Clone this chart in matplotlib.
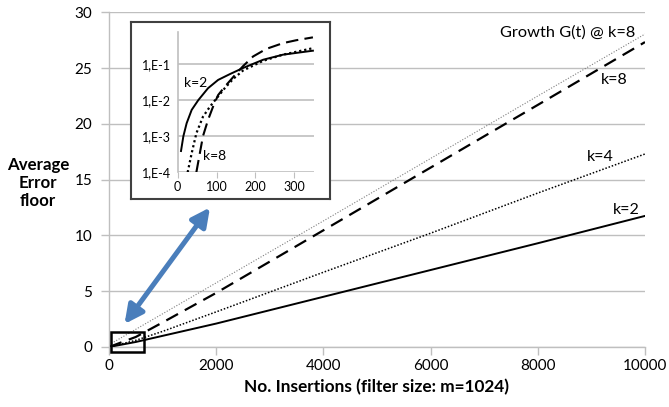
import numpy as np
import matplotlib
matplotlib.use("Agg")
import matplotlib.pyplot as plt
from matplotlib.patches import Rectangle, FancyArrowPatch

plt.rcParams['font.family'] = ['Lato', 'DejaVu Sans']

# main chart data
n_main = [0, 500, 1000, 2000, 4000, 6000, 8000, 10000]
err_k2 = [0, 0.45, 1.0, 2.1, 4.5, 6.9, 9.3, 11.75]
err_k4 = [0, 0.6, 1.4, 3.15, 6.7, 10.2, 13.8, 17.3]
err_k8 = [0, 0.9, 2.2, 4.85, 10.46, 16.08, 21.7, 27.33]
n_growth = [0, 2000, 4000, 6000, 8000, 10000]
growth_k8 = [0.2, 5.75, 11.3, 16.9, 22.5, 28.05]

# zoomed inset data, log10 of error floor
n_in_k2 = [8.5, 14.6, 23, 36, 53, 78, 104, 134, 168, 220, 271, 348]
log_k2 = [-3.41, -3.0, -2.64, -2.27, -2.0, -1.67, -1.44, -1.28, -1.11, -0.88, -0.74, -0.63]
n_in_k4 = [25.6, 36, 48, 65, 83, 100, 121, 143, 168, 220, 271, 348]
log_k4 = [-4.0, -3.47, -2.92, -2.46, -2.18, -1.95, -1.67, -1.41, -1.18, -0.91, -0.74, -0.56]
n_in_k8 = [48, 57, 65, 78, 91, 104, 121, 134, 151, 168, 194, 228, 271, 305, 348]
log_k8 = [-4.0, -3.47, -3.0, -2.55, -2.18, -1.86, -1.63, -1.47, -1.26, -1.06, -0.79,
          -0.58, -0.42, -0.34, -0.26]

x_ticks = [0, 2000, 4000, 6000, 8000, 10000]
y_ticks = [0, 5, 10, 15, 20, 25, 30]
in_y_ticks = [-4, -3, -2, -1]
in_y_labels = ['1,E-4', '1,E-3', '1,E-2', '1,E-1']
in_x_ticks = [0, 100, 200, 300]

W, H = 669, 407
grid_c = '#bfbfbf'

fig = plt.figure(figsize=(W / 100, H / 100), dpi=100)
ax = fig.add_axes([109 / W, 1 - 347 / H, 536 / W, 334.7 / H])

ax.plot(n_growth, growth_k8, color='#7f7f7f', lw=0.8, ls=(0, (1, 1.5)))
ax.plot(n_main, err_k8, color='black', lw=1.6, ls=(0, (6, 3.5)))
ax.plot(n_main, err_k4, color='black', lw=1.1, ls=(0, (1, 1.2)))
ax.plot(n_main, err_k2, color='black', lw=1.4)

ax.set_xlim(0, 10000)
ax.set_ylim(0, 30)
ax.set_xticks(x_ticks)
ax.set_yticks(y_ticks)
ax.yaxis.grid(True, color=grid_c, lw=1)
ax.set_axisbelow(True)
for s in ['top', 'right']:
    ax.spines[s].set_visible(False)
for s in ['left', 'bottom']:
    ax.spines[s].set_color(grid_c)
    ax.spines[s].set_linewidth(1)
ax.spines['bottom'].set_zorder(0.5)
ax.tick_params(colors=grid_c, length=6, width=1, labelcolor='black', labelsize=11, pad=3)
ax.tick_params(axis='y', pad=6)

ax.text(9820, 28.2, 'Growth G(t) @ k=8', ha='right', va='center', fontsize=11.8)
ax.text(9430, 23.9, 'k=8', ha='center', va='center', fontsize=11.5)
ax.text(9160, 17.05, 'k=4', ha='center', va='center', fontsize=11.5)
ax.text(9655, 12.3, 'k=2', ha='center', va='center', fontsize=11.5)

ax.add_patch(Rectangle((30, -0.45), 620, 1.8, fill=False, ec='black', lw=1.8,
                       clip_on=False, zorder=5))

ax.set_xlabel('No. Insertions (filter size: m=1024)', fontsize=12.4, fontweight='bold', labelpad=4)
fig.text(38 / W, 1 - 183 / H, 'Average\nError\nfloor', ha='center', va='center',
         fontsize=12.2, fontweight='bold', linespacing=1.15)

# double arrow between zoom box and inset
arr = FancyArrowPatch((124.5 / W, 1 - 324 / H), (210 / W, 1 - 207.5 / H),
                      transform=fig.transFigure, arrowstyle='<|-|>,head_length=11,head_width=5.5',
                      mutation_scale=1, color='#4a7ebb', lw=3.6, shrinkA=0, shrinkB=0)
fig.patches.append(arr)

# inset frame
frame = fig.add_axes([131 / W, 1 - 199 / H, 199 / W, 177 / H])
frame.set_xticks([])
frame.set_yticks([])
for s in frame.spines.values():
    s.set_color('#404040')
    s.set_linewidth(1.5)

ins = fig.add_axes([177.7 / W, 1 - 172.3 / H, 136 / W, 140 / H])
ins.patch.set_alpha(0)
ins.plot(n_in_k2, log_k2, color='black', lw=1.4)
ins.plot(n_in_k4, log_k4, color='black', lw=1.6, ls=(0, (1, 1.3)))
ins.plot(n_in_k8, log_k8, color='black', lw=1.5, ls=(0, (6, 3)))
ins.set_xlim(0, 350)
ins.set_ylim(-4, -0.12)
ins.set_yticks(in_y_ticks)
ins.set_yticklabels(in_y_labels)
ins.set_xticks(in_x_ticks)
ins.yaxis.grid(True, color=grid_c, lw=1.2)
ins.set_axisbelow(True)
for s in ['top', 'right', 'bottom']:
    ins.spines[s].set_visible(False)
ins.spines['left'].set_color(grid_c)
ins.spines['left'].set_linewidth(1.2)
ins.tick_params(axis='y', length=0, labelsize=9, pad=5)
ins.tick_params(axis='x', colors=grid_c, length=4, labelcolor='black', labelsize=9, pad=2)
ins.text(46.8, -1.53, 'k=2', ha='center', va='center', fontsize=10)
ins.text(96, -3.55, 'k=8', ha='center', va='center', fontsize=10)

fig.savefig('out.png', dpi=100)
